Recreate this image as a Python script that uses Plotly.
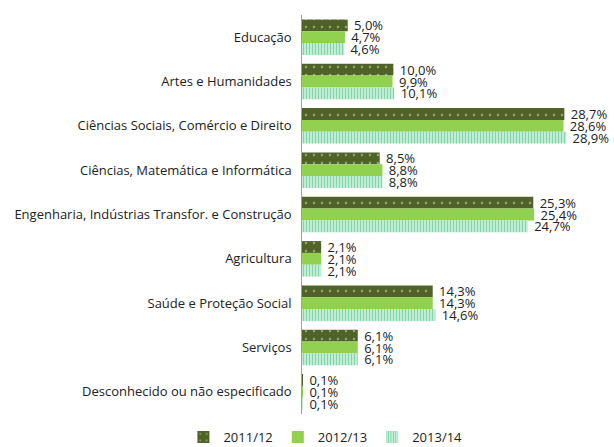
import plotly.graph_objects as go

categories = ["Educação", "Artes e Humanidades", "Ciências Sociais, Comércio e Direito",
              "Ciências, Matemática e Informática", "Engenharia, Indústrias Transfor. e Construção",
              "Agricultura", "Saúde e Proteção Social", "Serviços", "Desconhecido ou não especificado"]
s2011 = [5.0, 10.0, 28.7, 8.5, 25.3, 2.1, 14.3, 6.1, 0.1]
s2012 = [4.7, 9.9, 28.6, 8.8, 25.4, 2.1, 14.3, 6.1, 0.1]
s2013 = [4.6, 10.1, 28.9, 8.8, 24.7, 2.1, 14.6, 6.1, 0.1]
names = ["2011/12", "2012/13", "2013/14"]

def fmt(v):
    return "\u00a0" + f"{v:.1f}%".replace(".", ",")

common = dict(orientation="h", textposition="outside", constraintext="none", cliponaxis=False)
fig = go.Figure()
fig.add_trace(go.Bar(y=categories, x=s2011, name=names[0],
                     marker=dict(color="#4F6228", line=dict(width=0),
                                 pattern=dict(shape=".", fgcolor="#dfe3cc", bgcolor="#4F6228", size=8, solidity=0.08)),
                     text=[fmt(v) for v in s2011], **common))
fig.add_trace(go.Bar(y=categories, x=s2012, name=names[1],
                     marker=dict(color="#92D050", line=dict(width=0)),
                     text=[fmt(v) for v in s2012], **common))
fig.add_trace(go.Bar(y=categories, x=s2013, name=names[2],
                     marker=dict(color="#00B050", line=dict(width=0),
                                 pattern=dict(shape="|", fgcolor="#00B050", bgcolor="white", size=3, solidity=0.65)),
                     text=[fmt(v) for v in s2013], **common))

fig.update_traces(textfont=dict(size=13, color="#222222"))
fig.update_layout(
    width=614, height=447,
    margin=dict(l=302, r=14, t=15, b=33, autoexpand=False),
    paper_bgcolor="white", plot_bgcolor="white",
    barmode="group", bargap=0.2, bargroupgap=0,
    font=dict(family="Open Sans", size=13, color="#222222"),
    xaxis=dict(range=[0, 32.6], visible=False, showgrid=False),
    yaxis=dict(autorange="reversed", showline=True, linecolor="#a0a0a0", linewidth=1,
               ticks="", showgrid=False, ticksuffix="  ", automargin=False,
               tickfont=dict(size=13, color="#222222")),
    legend=dict(orientation="h", xref="container", x=0.53, xanchor="center",
                y=-0.058, yanchor="middle",
                font=dict(size=13), itemwidth=30, traceorder="normal",
                bgcolor="rgba(0,0,0,0)"),
)
fig.write_html("out.html", config={"displayModeBar": False},
               post_script="document.body.style.margin='0';")
